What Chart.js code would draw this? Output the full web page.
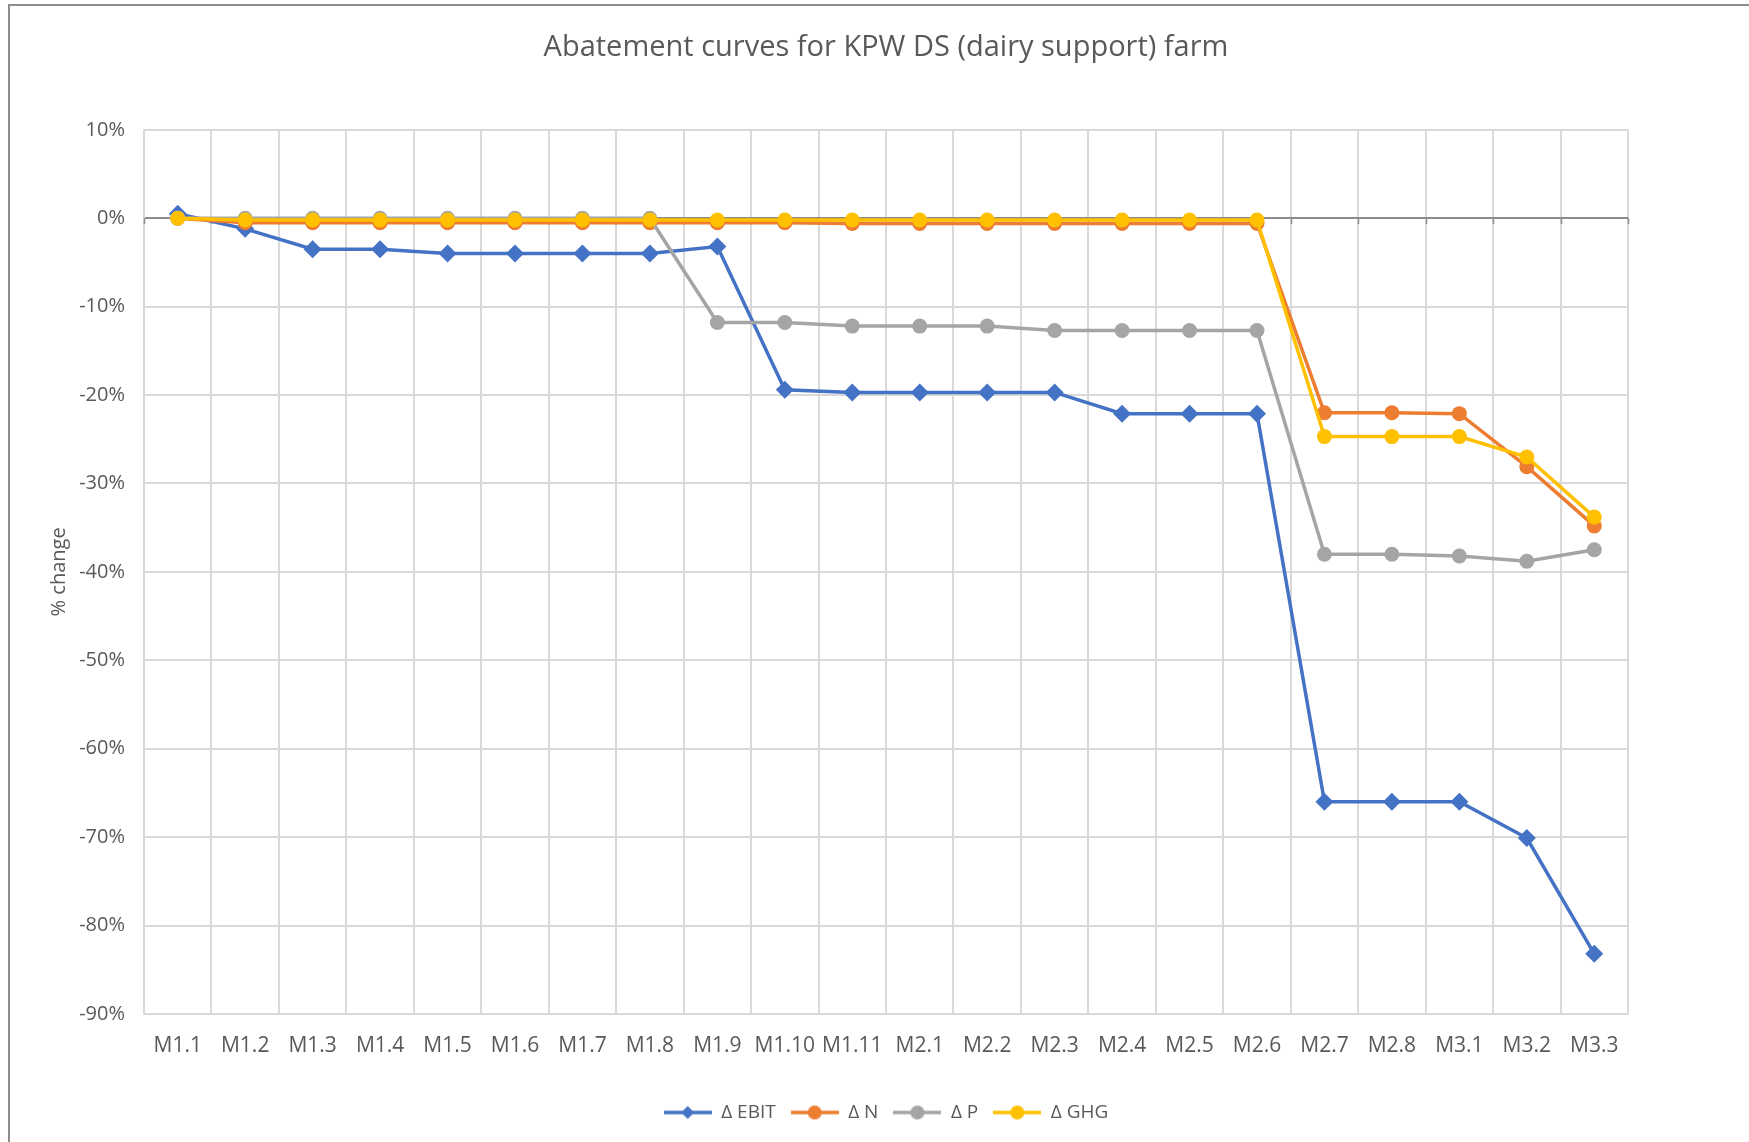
<!DOCTYPE html>
<html>
<head>
<meta charset="utf-8">
<script src="https://cdn.jsdelivr.net/npm/chart.js@4.4.1/dist/chart.umd.min.js"></script>
<style>
  body { margin: 0; background: #fff; }
  #wrap { position: relative; width: 1749px; height: 1142px; }
  #frame { position: absolute; left: 8px; top: 4px; right: -10px; bottom: -10px;
           border-left: 2px solid #8c8c8c; border-top: 2px solid #8c8c8c; pointer-events: none; }
</style>
</head>
<body>
<div id="wrap">
  <canvas id="grafico" width="1749" height="1142"></canvas>
  <div id="frame"></div>
</div>
<script>
// categories (measures)
var misure = ['M1.1','M1.2','M1.3','M1.4','M1.5','M1.6','M1.7','M1.8','M1.9','M1.10','M1.11',
              'M2.1','M2.2','M2.3','M2.4','M2.5','M2.6','M2.7','M2.8','M3.1','M3.2','M3.3'];

// % change per series
var ebit = [0.5, -1.2, -3.5, -3.5, -4.0, -4.0, -4.0, -4.0, -3.2, -19.4, -19.7,
            -19.7, -19.7, -19.7, -22.1, -22.1, -22.1, -66.0, -66.0, -66.0, -70.1, -83.2];
var azoto = [0, -0.5, -0.5, -0.5, -0.5, -0.5, -0.5, -0.5, -0.5, -0.5, -0.6,
             -0.6, -0.6, -0.6, -0.6, -0.6, -0.6, -22.0, -22.0, -22.1, -28.1, -34.8];
var fosforo = [0, 0, 0, 0, 0, 0, 0, 0, -11.8, -11.8, -12.2,
               -12.2, -12.2, -12.7, -12.7, -12.7, -12.7, -38.0, -38.0, -38.2, -38.8, -37.5];
var ghg = [0, -0.2, -0.2, -0.2, -0.2, -0.2, -0.2, -0.2, -0.2, -0.2, -0.2,
           -0.2, -0.2, -0.2, -0.2, -0.2, -0.2, -24.7, -24.7, -24.7, -27.0, -33.8];

var yTicks = [10, 0, -10, -20, -30, -40, -50, -60, -70, -80, -90];

var FONT = "'Open Sans', 'Noto Sans', sans-serif";
var GREY_TXT = '#595959';

// little legend picture: line with marker in the middle
function legendIcon(colore, forma){
  var c = document.createElement('canvas');
  c.width = 48; c.height = 16;
  var g = c.getContext('2d');
  g.strokeStyle = colore; g.lineWidth = 3.5;
  g.beginPath(); g.moveTo(0, 8); g.lineTo(48, 8); g.stroke();
  g.fillStyle = colore;
  g.beginPath();
  if (forma == 'diamond') {
    g.moveTo(24, 1.5); g.lineTo(30.5, 8); g.lineTo(24, 14.5); g.lineTo(17.5, 8);
  } else {
    g.arc(24, 8, 7, 0, Math.PI * 2);
  }
  g.closePath(); g.fill();
  return c;
}

function serie(nome, dati, colore, forma, ordine){
  return {
    label: nome,
    data: dati,
    borderColor: colore,
    backgroundColor: colore,
    borderWidth: 3.5,
    pointStyle: forma == 'diamond' ? 'rectRot' : 'circle',
    pointRadius: forma == 'diamond' ? 9 : 7.5,
    pointBorderWidth: 0,
    pointHoverRadius: 7,
    tension: 0,
    order: ordine,
    icon: legendIcon(colore, forma)
  };
}

// small tick marks under the 0% axis line
var zeroTicks = {
  id: 'zeroTicks',
  beforeDatasetsDraw: function(chart){
    var x = chart.scales.x, y = chart.scales.y, ctx = chart.ctx;
    var y0 = y.getPixelForValue(0);
    var passo = (x.right - x.left) / misure.length;
    ctx.save();
    ctx.strokeStyle = '#8c8c8c';
    ctx.lineWidth = 1.5;
    for (var i = 0; i <= misure.length; i++) {
      var px = Math.round(x.left + i * passo) + 0.5;
      ctx.beginPath(); ctx.moveTo(px, y0); ctx.lineTo(px, y0 + 6); ctx.stroke();
    }
    ctx.restore();
  }
};

var ctx = document.getElementById('grafico');
var chart = new Chart(ctx, {
  type: 'line',
  data: {
    labels: misure,
    datasets: [
      serie('\u0394 EBIT', ebit, '#4472C4', 'diamond', 4),
      serie('\u0394 N', azoto, '#ED7D31', 'circle', 3),
      serie('\u0394 P', fosforo, '#A5A5A5', 'circle', 2),
      serie('\u0394 GHG', ghg, '#FFC000', 'circle', 1)
    ]
  },
  plugins: [zeroTicks],
  options: {
    responsive: false,
    animation: false,
    layout: { padding: { left: 23, right: 0, top: 0, bottom: 10 } },
    plugins: {
      title: {
        display: true,
        text: 'Abatement curves for KPW DS (dairy support) farm',
        color: GREY_TXT,
        font: { family: FONT, size: 29, weight: 'normal' },
        padding: { top: 30, bottom: 65 }
      },
      legend: {
        position: 'bottom',
        labels: {
          color: GREY_TXT,
          font: { family: FONT, size: 19 },
          usePointStyle: true,
          pointStyleWidth: 48,
          padding: 15,
          sort: function(a, b){ return a.datasetIndex - b.datasetIndex; },
          generateLabels: function(ch){
            return ch.data.datasets.map(function(d, i){
              return { text: d.label, pointStyle: d.icon, fillStyle: d.borderColor,
                       strokeStyle: d.borderColor, lineWidth: 0, fontColor: GREY_TXT,
                       hidden: false, datasetIndex: i };
            });
          }
        }
      },
      tooltip: { enabled: false }
    },
    scales: {
      x: {
        offset: true,
        grid: { offset: true, color: '#d9d9d9', lineWidth: 2, drawTicks: false },
        border: { color: '#d9d9d9', width: 2 },
        ticks: { color: GREY_TXT, font: { family: FONT, size: 21 }, padding: 19,
                 autoSkip: false, maxRotation: 0 },
        afterFit: function(s){ s.height = 74; }
      },
      y: {
        min: -90,
        max: 10,
        afterBuildTicks: function(s){ s.ticks = yTicks.map(function(v){ return { value: v }; }); },
        grid: {
          drawTicks: false,
          lineWidth: 2,
          color: function(c){ return c.tick && c.tick.value === 0 ? '#8c8c8c' : '#d9d9d9'; }
        },
        border: { color: '#d9d9d9', width: 2 },
        ticks: {
          color: GREY_TXT, font: { family: FONT, size: 20 }, padding: 19,
          callback: function(v){ return v + '%'; }
        },
        title: {
          display: true, text: '% change', color: GREY_TXT,
          font: { family: FONT, size: 20 }, padding: { top: 24, bottom: 0 }
        },
        afterFit: function(s){ s.width = 121; }
      },
      // empty space on the right, keeps title and legend centred on the page
      destra: {
        type: 'linear',
        position: 'right',
        grid: { display: false },
        border: { display: false },
        ticks: { display: false },
        afterFit: function(s){ s.width = 121; }
      }
    }
  }
});
</script>
</body>
</html>
